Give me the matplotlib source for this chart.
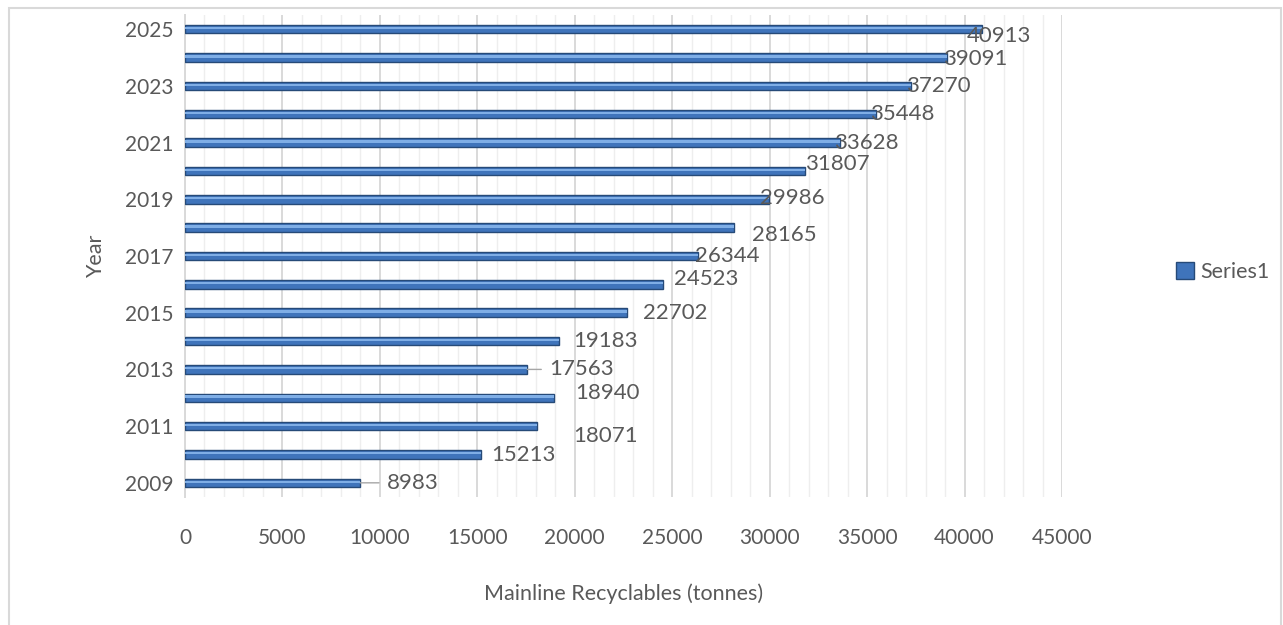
import numpy as np
import matplotlib.pyplot as plt
from matplotlib.patches import Rectangle, Patch
from matplotlib.ticker import MultipleLocator

# Mainline recyclables by year
years = [2009, 2010, 2011, 2012, 2013, 2014, 2015, 2016, 2017,
         2018, 2019, 2020, 2021, 2022, 2023, 2024, 2025]
tonnes = [8983, 15213, 18071, 18940, 17563, 19183, 22702, 24523, 26344,
          28165, 29986, 31807, 33628, 35448, 37270, 39091, 40913]

# label nudges in pixels (dx, dy) from the bar end
label_dx = [27, 10, 36, 21, 22, 14, 16, 11, -3, 18, -9, 0, -6, -6, -5, -4, -16]
label_dy = [0, -1, -10, 5, 0, 0, 0, 5, 0, -7, 1, 7, 0, 0, 0, -1, -7]
leader = [True, False, False, False, True, False, False, False, False,
          False, False, False, False, False, False, False, False]

TEXT = '#595959'
plt.rcParams['font.family'] = ['Lato', 'DejaVu Sans']

fig = plt.figure(figsize=(12.83, 6.25), dpi=100)
ax = fig.add_axes([185 / 1283, 1 - 497 / 625, 877 / 1283, 482 / 625])

y = np.arange(len(years))
ax.barh(y, tonnes, height=0.3, color='#3f74bb', edgecolor='#264a78',
        linewidth=1.0, zorder=3)
ax.barh(y + 0.04, tonnes, height=0.08, color='#7faee6', linewidth=0, zorder=4)

for i, v in enumerate(tonnes):
    ax.annotate(str(v), xy=(v, i), xytext=(label_dx[i], label_dy[i]),
                textcoords='offset pixels', ha='left', va='center',
                fontsize=16, color=TEXT, zorder=5)
    if leader[i]:
        ax.annotate('', xy=(v, i), xytext=(label_dx[i] - 8, label_dy[i]),
                    textcoords='offset pixels',
                    arrowprops=dict(arrowstyle='-', color='#a6a6a6', lw=1,
                                    shrinkA=0, shrinkB=0))

ax.set_xlim(0, 45000)
ax.set_ylim(-0.5, len(years) - 0.5)
ax.xaxis.set_major_locator(MultipleLocator(5000))
ax.xaxis.set_minor_locator(MultipleLocator(1000))
ax.grid(axis='x', which='major', color='#d9d9d9', linewidth=1.4, zorder=0)
ax.grid(axis='x', which='minor', color='#eeeeee', linewidth=1.0, zorder=0)
ax.set_axisbelow(True)

ax.set_yticks(y[::2])
ax.set_yticklabels([str(yr) for yr in years[::2]])
ax.tick_params(axis='both', which='both', length=0, labelsize=15,
               labelcolor=TEXT)
ax.tick_params(axis='x', pad=22)
ax.tick_params(axis='y', pad=8)

for side in ['top', 'right', 'bottom']:
    ax.spines[side].set_visible(False)
ax.spines['left'].set_color('#d9d9d9')
ax.spines['left'].set_linewidth(1.4)

ax.set_xlabel('Mainline Recyclables (tonnes)', fontsize=15.5, color=TEXT,
              labelpad=26)
ax.set_ylabel('Year', fontsize=15.5, color=TEXT, labelpad=14)

handle = Patch(facecolor='#3f74bb', edgecolor='#264a78')
fig.legend([handle], ['Series1'], loc='center left',
           bbox_to_anchor=(1157 / 1283, 1 - 272 / 625), frameon=False,
           fontsize=15.5, labelcolor=TEXT, handlelength=0.8, handleheight=0.8,
           handletextpad=0.3)

# chart area border
fig.patches.append(Rectangle((9 / 1283, -0.05), 1272 / 1283, 1.05 - 8 / 625,
                             transform=fig.transFigure, fill=False,
                             edgecolor='#d9d9d9', linewidth=1.5))

fig.savefig('out.png', dpi=100)
